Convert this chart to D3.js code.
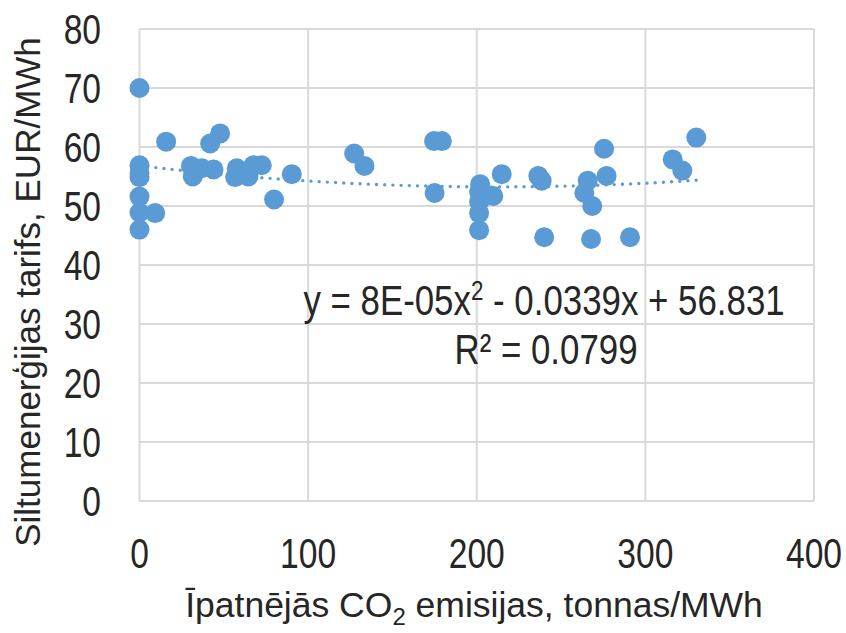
<!DOCTYPE html>
<html>
<head>
<meta charset="utf-8">
<script src="https://cdn.jsdelivr.net/npm/d3@7"></script>
<style>
  body { margin: 0; background: #fff; }
  text { font-family: "Liberation Sans", Arial, sans-serif; fill: #262626; }
</style>
</head>
<body>
<svg width="846" height="633"></svg>
<script>
// CO2 emissions (tonnas/MWh) and heat tariff (EUR/MWh)
const emissions = [0, 0, 0, 0, 0, 0, 0, 9.3, 15.8, 30.5, 31.6, 37, 41.9, 43.9, 47.8,
  56.7, 57.7, 64.6, 67.6, 72.5, 79.8, 90.3, 127.3, 133.4, 174.7, 179.3, 175,
  202, 201.4, 201.4, 201.4, 201.4, 209.8, 214.8, 236.5, 238.5, 240,
  263.8, 265.8, 268.5, 267.8, 277, 275.5, 290.9, 316.2, 321.9, 330.2];
const tariffs = [70.0, 56.9, 55.6, 54.9, 51.6, 48.9, 46.0, 48.8, 60.9, 56.8, 55.0, 56.4, 60.6, 56.2, 62.3,
  54.9, 56.4, 55.0, 56.9, 56.9, 51.1, 55.4, 58.9, 56.8, 61.0, 61.0, 52.2,
  53.7, 52.4, 50.7, 48.8, 45.9, 51.7, 55.4, 55.1, 54.3, 44.7,
  52.2, 54.3, 50.0, 44.4, 55.1, 59.7, 44.7, 57.9, 56.0, 61.6];

const xTicks = [0, 100, 200, 300, 400];
const yTicks = [0, 10, 20, 30, 40, 50, 60, 70, 80];

// polynomial trendline shown on the chart: y = c2 x^2 + c1 x + c0
const trendCoef = [56.831, -0.0339, 8e-5];
const eqLabel = ['y = 8E-05x', '2', ' - 0.0339x + 56.831'];
const r2Label = 'R² = 0.0799';

const color = '#5b9bd5';
const grid = '#d9d9d9';
const narrow = 0.8; // text in the chart is horizontally condensed

const svg = d3.select('svg');
const x = d3.scaleLinear().domain([0, 400]).range([139.5, 814]);
const y = d3.scaleLinear().domain([0, 80]).range([501, 29]);

// gridlines
svg.append('g').selectAll('line').data(yTicks).join('line')
  .attr('x1', x(0)).attr('x2', x(400))
  .attr('y1', d => y(d)).attr('y2', d => y(d))
  .attr('stroke', grid).attr('stroke-width', 2);
svg.append('g').selectAll('line').data(xTicks).join('line')
  .attr('y1', y(0)).attr('y2', y(80))
  .attr('x1', d => x(d)).attr('x2', d => x(d))
  .attr('stroke', grid).attr('stroke-width', 2);

// tick labels
svg.append('g').selectAll('text').data(yTicks).join('text')
  .attr('transform', d => `translate(101,${y(d) + 15}) scale(${narrow},1)`)
  .attr('text-anchor', 'end').attr('font-size', 42)
  .text(d => d);
svg.append('g').selectAll('text').data(xTicks).join('text')
  .attr('transform', d => `translate(${x(d)},568) scale(${narrow},1)`)
  .attr('text-anchor', 'middle').attr('font-size', 42)
  .text(d => d);

// points
const pts = emissions.map((e, i) => ({ e: e, t: tariffs[i] }));
svg.append('g').selectAll('circle').data(pts).join('circle')
  .attr('cx', d => x(d.e)).attr('cy', d => y(d.t))
  .attr('r', 10).attr('fill', color);

// trendline
const xmin = d3.min(emissions), xmax = d3.max(emissions);
const trend = d3.range(0, 101).map(i => {
  const v = xmin + (xmax - xmin) * i / 100;
  return [v, trendCoef[0] + trendCoef[1] * v + trendCoef[2] * v * v];
});
svg.append('path')
  .attr('d', d3.line().x(d => x(d[0])).y(d => y(d[1]))(trend))
  .attr('fill', 'none').attr('stroke', color)
  .attr('stroke-width', 3.4).attr('stroke-linecap', 'round')
  .attr('stroke-dasharray', '0 8.2');

// equation labels
const eq = svg.append('text').attr('transform', `translate(544,315) scale(0.83,1)`)
  .attr('text-anchor', 'middle').attr('font-size', 42);
eq.append('tspan').text(eqLabel[0]);
eq.append('tspan').attr('font-size', 27).attr('dy', -15).text(eqLabel[1]);
eq.append('tspan').attr('dy', 15).text(eqLabel[2]);
svg.append('text').attr('transform', `translate(546,364) scale(0.83,1)`)
  .attr('text-anchor', 'middle').attr('font-size', 42).text(r2Label);

// axis titles
const xt = svg.append('text').attr('x', 474).attr('y', 617)
  .attr('text-anchor', 'middle').attr('font-size', 35.5);
xt.append('tspan').text('Īpatnējās CO');
xt.append('tspan').attr('font-size', 24).attr('dy', 8).text('2');
xt.append('tspan').attr('dy', -8).text(' emisijas, tonnas/MWh');

svg.append('text')
  .attr('transform', 'translate(40,292) rotate(-90)')
  .attr('text-anchor', 'middle').attr('font-size', 35)
  .text('Siltumenerģijas tarifs, EUR/MWh');
</script>
</body>
</html>
